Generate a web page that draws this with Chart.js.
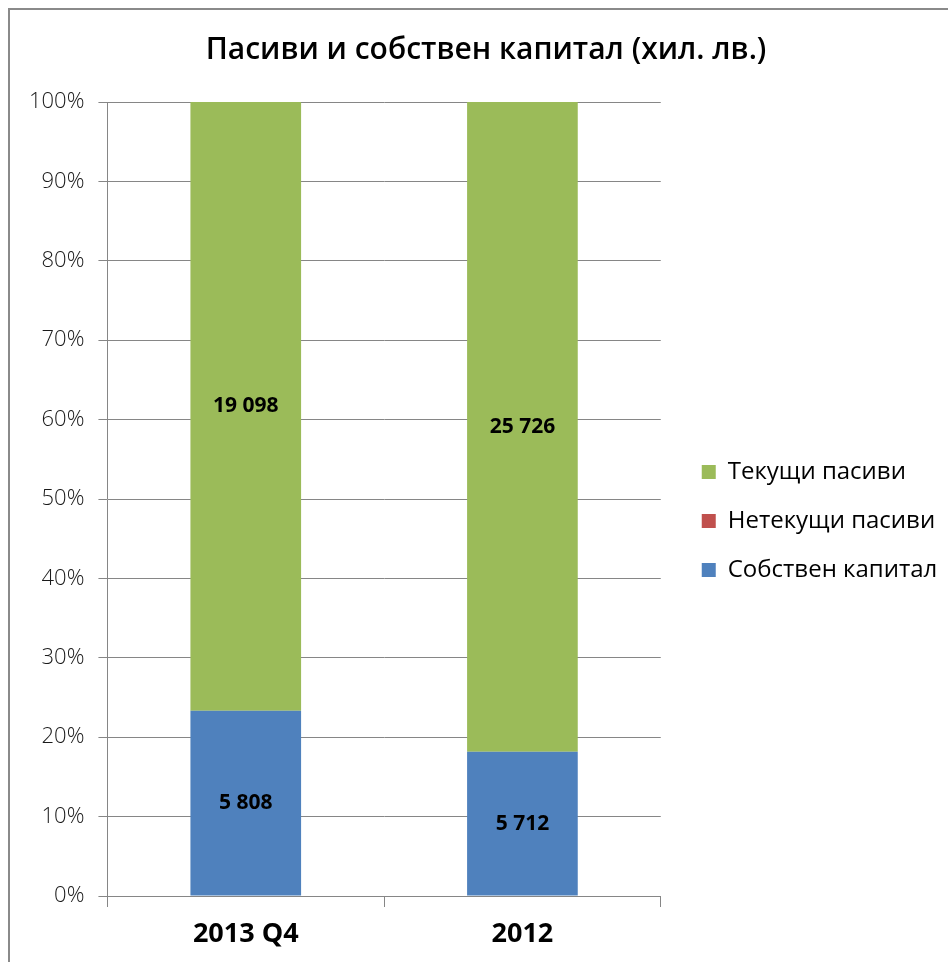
<!DOCTYPE html>
<html>
<head>
<meta charset="utf-8">
<script src="https://cdn.jsdelivr.net/npm/chart.js@4"></script>
<style>
  html, body { margin: 0; padding: 0; background: #fff; }
  #frame { position: absolute; left: 8px; top: 8px; width: 960px; height: 980px;
           border-left: 2px solid #8a8a8a; border-top: 2px solid #8a8a8a; }
  #wrap { position: absolute; left: 0; top: 0; width: 948px; height: 962px; }
</style>
</head>
<body>
<div id="frame"></div>
<div id="wrap"><canvas id="chart"></canvas></div>
<script>
// values in thousands of leva
const categories = ['2013 Q4', '2012'];
const equity = [5808, 5712];
const nonCurrent = [0, 0];
const current = [19098, 25726];

const totals = categories.map((c, i) => equity[i] + nonCurrent[i] + current[i]);
const pct = arr => arr.map((v, i) => v / totals[i] * 100);

const fmt = v => String(v).replace(/\B(?=(\d{3})+(?!\d))/g, ' ');

// draw the raw numbers in the middle of each segment
const segmentLabels = {
    id: 'segmentLabels',
    afterDatasetsDraw(chart) {
        const ctx = chart.ctx;
        ctx.save();
        ctx.font = 'bold 21px "Open Sans"';
        ctx.fillStyle = '#000';
        ctx.textAlign = 'center';
        ctx.textBaseline = 'middle';
        chart.data.datasets.forEach((ds, di) => {
            chart.getDatasetMeta(di).data.forEach((bar, i) => {
                const raw = ds.raw[i];
                if (!raw) return;
                ctx.fillText(fmt(raw), bar.x, (bar.y + bar.base) / 2);
            });
        });
        ctx.restore();
    }
};

// move legend down/right and let it use the right margin; recenter title
const legendShift = {
    id: 'legendShift',
    afterLayout(chart) {
        const lg = chart.legend;
        lg.top += 40;
        lg.bottom += 40;
        lg.left += 16;
        lg.right = chart.width;
        lg.width = lg.right - lg.left;
        const tb = chart.titleBlock;
        tb.left = 24;
        tb.right = chart.width;
        tb.width = tb.right - tb.left;
    }
};

new Chart(document.getElementById('chart'), {
    type: 'bar',
    data: {
        labels: categories,
        datasets: [
            { label: 'Собствен капитал', data: pct(equity), raw: equity, backgroundColor: '#4f81bd' },
            { label: 'Нетекущи пасиви', data: pct(nonCurrent), raw: nonCurrent, backgroundColor: '#c0504d' },
            { label: 'Текущи пасиви', data: pct(current), raw: current, backgroundColor: '#9bbb59' }
        ]
    },
    options: {
        responsive: true,
        maintainAspectRatio: false,
        animation: false,
        barPercentage: 0.4,
        categoryPercentage: 1,
        layout: { padding: { left: 15, right: 72, bottom: 0 } },
        plugins: {
            title: {
                display: true,
                text: 'Пасиви и собствен капитал (хил. лв.)',
                color: '#000',
                font: { family: 'Open Sans', size: 30, weight: '600', lineHeight: 1.2 },
                padding: { top: 32, bottom: 34 }
            },
            legend: {
                position: 'right',
                reverse: true,
                labels: {
                    color: '#000',
                    font: { family: 'Open Sans', size: 24 },
                    boxWidth: 14,
                    boxHeight: 14,
                    padding: 25
                }
            },
            tooltip: { enabled: false }
        },
        scales: {
            x: {
                stacked: true,
                grid: { offset: true, drawOnChartArea: false, color: '#868686', tickLength: 11 },
                border: { color: '#868686' },
                ticks: { color: '#000', font: { family: 'Open Sans', size: 27, weight: 'bold', lineHeight: 1 }, padding: 14 }
            },
            y: {
                stacked: true,
                min: 0,
                max: 100,
                ticks: {
                    stepSize: 10,
                    callback: v => v + '%',
                    color: '#1a1a1a',
                    font: { family: 'Open Sans', size: 22, weight: '300' },
                    padding: 14
                },
                grid: { color: '#868686', tickLength: 9 },
                border: { color: '#868686' }
            }
        }
    },
    plugins: [segmentLabels, legendShift]
});
</script>
</body>
</html>
